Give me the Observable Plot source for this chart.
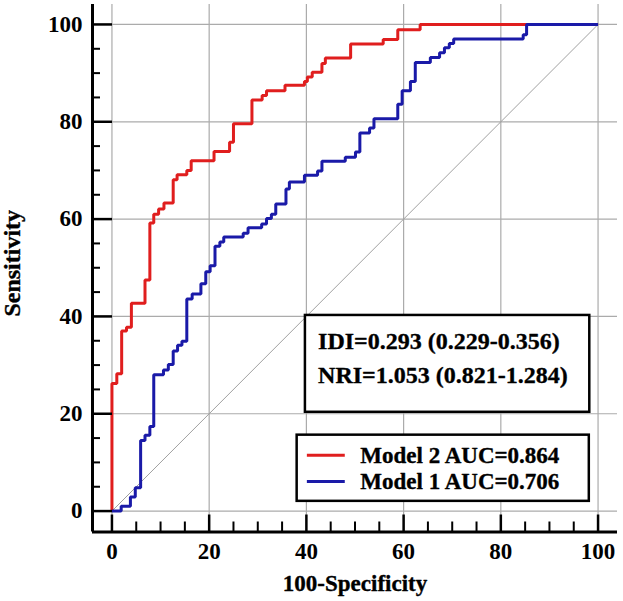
<!DOCTYPE html>
<html><head><meta charset="utf-8">
<script src="https://cdn.jsdelivr.net/npm/d3@7"></script>
<script src="https://cdn.jsdelivr.net/npm/@observablehq/plot@0.6"></script>
<style>
body{margin:0;background:#fff;}
#chart svg{display:block;}
</style>
</head><body><div id="chart"></div>
<script>
// ROC step vertices (100-Specificity, Sensitivity)
const model2X = [0, 0, 1.0, 2.0, 3.0, 4.0, 6.8, 7.8, 8.6, 9.6, 10.7, 12.6, 13.4, 15.4, 16.3, 21.0, 24.2, 25.0, 28.8, 30.9, 31.8, 35.6, 39.6, 40.2, 41.2, 43.2, 43.9, 49.1, 55.8, 58.8, 63.4, 100];
const model2Y = [0, 26.2, 28.2, 37.0, 37.8, 42.7, 47.5, 59.2, 61.0, 62.1, 63.3, 68.1, 69.1, 70.0, 72.0, 73.9, 75.8, 79.6, 84.5, 85.4, 86.4, 87.5, 88.3, 89.2, 90.2, 92.0, 93.1, 96.0, 96.9, 98.9, 100, 100];
const model1X = [0, 1.9, 3.8, 4.8, 5.9, 6.8, 7.8, 8.6, 10.6, 11.6, 12.6, 13.5, 14.4, 15.4, 16.5, 18.3, 19.3, 20.2, 21.2, 22.2, 23.0, 27.0, 28.0, 30.8, 31.8, 32.8, 33.7, 35.8, 36.5, 39.6, 42.3, 43.2, 48.0, 50.1, 51.0, 53.0, 53.9, 58.8, 59.7, 61.4, 62.4, 65.5, 67.4, 68.4, 69.4, 70.3, 84.6, 85.3, 100];
const model1Y = [0, 1.0, 2.9, 4.8, 14.5, 15.6, 17.4, 28.0, 29.0, 30.1, 32.9, 34.1, 34.9, 43.6, 44.6, 46.7, 49.2, 50.4, 54.4, 55.3, 56.3, 57.1, 58.2, 59.0, 60.1, 61.0, 63.1, 66.2, 67.6, 69.0, 69.9, 71.9, 72.7, 73.8, 77.7, 78.7, 80.6, 83.6, 86.4, 88.3, 92.2, 93.2, 94.2, 95.2, 96.1, 97.0, 97.9, 100, 100];
const diagonal = [0, 100];
const majorTicks = [0, 20, 40, 60, 80, 100];
const minorTicks = [5, 10, 15, 25, 30, 35, 45, 50, 55, 65, 70, 75, 85, 90, 95];
const statLines = ["IDI=0.293 (0.229-0.356)", "NRI=1.053 (0.821-1.284)"];
const legendLabels = ["Model 2 AUC=0.864", "Model 1 AUC=0.706"];
const xTitle = "100-Specificity";
const yTitle = "Sensitivity";

const RED = "#e01e1e", BLUE = "#1a1aa8";
const model2 = model2X.map((x, i) => ({x, y: model2Y[i]}));
const model1 = model1X.map((x, i) => ({x, y: model1Y[i]}));
const xMin = -4, yMin = -4.3;

const lineStyle = {x: "x", y: "y", curve: "step-after", strokeWidth: 3, strokeLinejoin: "miter", strokeLinecap: "butt"};
const txt = {fill: "black", stroke: "black", strokeWidth: 0.35};

const chart = Plot.plot({
  width: 623, height: 601,
  marginLeft: 92, marginRight: 6, marginTop: 4, marginBottom: 69.5,
  style: {fontFamily: "'Liberation Serif', 'Times New Roman', serif", fontWeight: "bold", fontSize: "23px", color: "black", background: "white"},
  x: {domain: [xMin, 104], label: null},
  y: {domain: [yMin, 104.1], label: null},
  marks: [
    Plot.gridX(majorTicks, {stroke: "#ababab", strokeOpacity: 1, strokeWidth: 1.2}),
    Plot.gridY(majorTicks, {stroke: "#ababab", strokeOpacity: 1, strokeWidth: 1.2}),
    Plot.line(diagonal, {x: d => d, y: d => d, stroke: "#a0a0a0", strokeWidth: 1}),
    Plot.line(model2, {...lineStyle, stroke: RED}),
    Plot.line(model1, {...lineStyle, stroke: BLUE}),
    // axis lines
    Plot.ruleX([xMin], {stroke: "black", strokeWidth: 3}),
    Plot.ruleY([yMin], {stroke: "black", strokeWidth: 3}),
    // inward ticks
    Plot.axisX({ticks: majorTicks, tickSize: -17, strokeWidth: 2.5, tickFormat: () => "", label: null}),
    Plot.axisX({ticks: minorTicks, tickSize: -10, strokeWidth: 2, tickFormat: () => "", label: null}),
    Plot.axisY({ticks: majorTicks, tickSize: -20, strokeWidth: 2.5, tickFormat: () => "", label: null}),
    Plot.axisY({ticks: minorTicks, tickSize: -8, strokeWidth: 2, tickFormat: () => "", label: null}),
    // tick labels
    Plot.axisX({ticks: majorTicks, tickSize: 0, tickPadding: 11, label: null, ...txt}),
    Plot.axisY({ticks: majorTicks, tickSize: 0, tickPadding: 10, label: null, ...txt}),
    // titles
    Plot.text([xTitle], {frameAnchor: "bottom", dy: 52, lineAnchor: "middle", textAnchor: "middle", text: d => d, ...txt}),
    Plot.text([yTitle], {frameAnchor: "left", dx: -80, dy: -5, rotate: -90, lineAnchor: "middle", textAnchor: "middle", fontSize: 24, text: d => d, ...txt}),
    // IDI / NRI box
    Plot.rect([0], {x1: 39.8, x2: 98.3, y1: 20.3, y2: 40.2, fill: "white", stroke: "black", strokeWidth: 2.5}),
    Plot.text(statLines, {x: 42.4, y: (d, i) => [34.8, 27.9][i], text: d => d, textAnchor: "start", fontSize: 24, ...txt}),
    // legend box
    Plot.rect([0], {x1: 38.1, x2: 98.2, y1: 2.0, y2: 15.6, fill: "white", stroke: "black", strokeWidth: 2.5}),
    Plot.ruleY([legendLabels[0]], {y: () => 11.45, x1: 40.2, x2: 48, stroke: RED, strokeWidth: 3}),
    Plot.ruleY([legendLabels[1]], {y: () => 6.1, x1: 40.2, x2: 48, stroke: BLUE, strokeWidth: 3}),
    Plot.text(legendLabels, {x: 51.1, y: (d, i) => [11.45, 6.1][i], text: d => d, textAnchor: "start", ...txt})
  ]
});
document.getElementById("chart").appendChild(chart);
</script>
</body></html>
